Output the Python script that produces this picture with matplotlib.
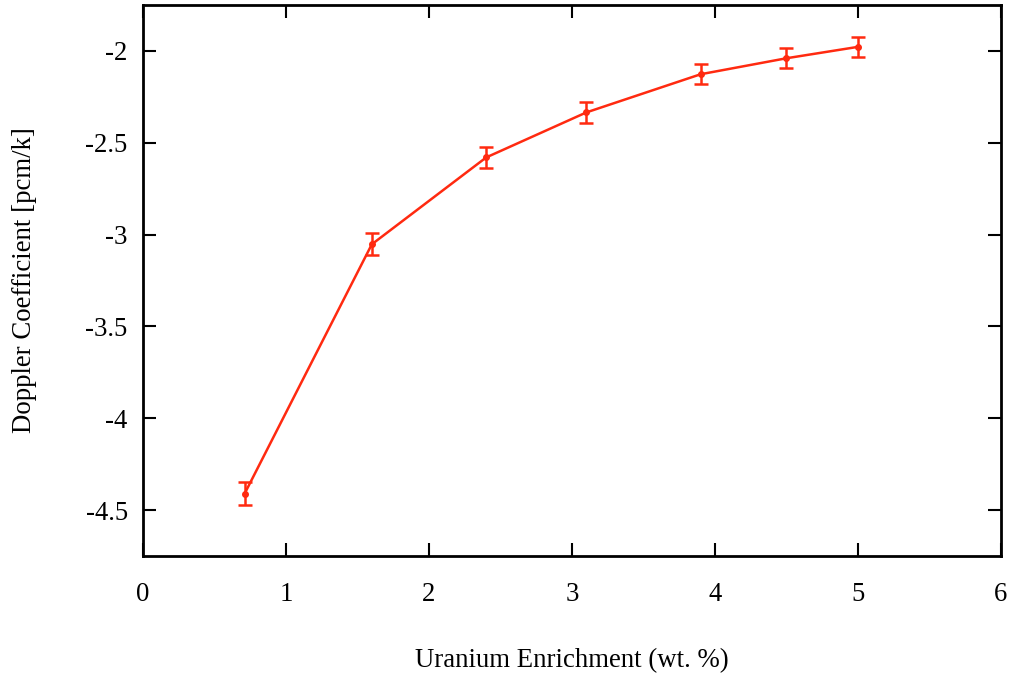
import matplotlib
matplotlib.use("Agg")
import matplotlib.pyplot as plt

enrichment = [0.711, 1.6, 2.4, 3.1, 3.9, 4.5, 5.0]
doppler = [-4.41, -3.053, -2.58, -2.335, -2.127, -2.04, -1.978]
err = [0.065, 0.06, 0.055, 0.055, 0.055, 0.055, 0.055]

x_ticks = [0, 1, 2, 3, 4, 5, 6]
y_ticks = [-4.5, -4, -3.5, -3, -2.5, -2]
y_labels = ["-4.5", "-4", "-3.5", "-3", "-2.5", "-2"]

plt.rcParams['font.family'] = ['Liberation Serif', 'DejaVu Serif']
plt.rcParams['font.size'] = 19.3

fig = plt.figure(figsize=(10.15, 6.74), dpi=100)
ax = fig.add_axes([0.1409, 0.1751, 0.9862 - 0.1409, 0.9926 - 0.1751])

color = '#ff2a10'
ax.errorbar(enrichment, doppler, yerr=err, color=color, lw=1.8, marker='o', ms=4,
            capsize=4.8, capthick=1.8, elinewidth=1.8)

ax.set_xlim(0, 6)
ax.set_ylim(-4.75, -1.75)
ax.set_xticks(x_ticks)
ax.set_xticklabels([str(t) for t in x_ticks])
ax.set_yticks(y_ticks)
ax.set_yticklabels(y_labels)
ax.tick_params(direction='in', length=9.5, width=1.5, top=True, right=True)
ax.tick_params(axis='x', pad=19)
ax.tick_params(axis='y', pad=11)
for s in ax.spines.values():
    s.set_linewidth(2)

ax.set_xlabel('Uranium Enrichment (wt. %)', labelpad=29)
ax.set_ylabel('Doppler Coefficient [pcm/k]', labelpad=35)

fig.savefig('out.png', dpi=100)
